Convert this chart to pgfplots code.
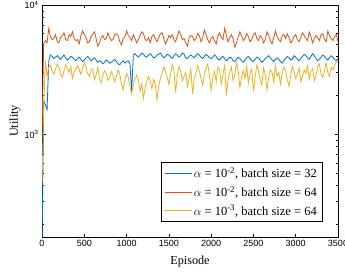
\documentclass[border=0pt]{standalone}
\usepackage{fontspec}
\setmainfont{Liberation Serif}
\newfontfamily\arialf{Liberation Sans}
\usepackage{pgfplots}
\usepackage{pgfplotstable}
\pgfplotsset{compat=1.18}
\definecolor{mblue}{rgb}{0,0.447,0.741}
\definecolor{morange}{rgb}{0.850,0.325,0.098}
\definecolor{myellow}{rgb}{0.929,0.694,0.125}

\pgfplotstableread{
ep b o y
0 120 1000 400
20 1800 5000 1600
40 1700 5300 3700
60 1550 5100 2800
80 3700 6600 3300
100 4100 5700 3400
120 4000 5400 3100
140 3850 5500 2900
160 3950 5900 3200
180 4050 5200 3500
200 3900 5100 3300
220 3800 5600 2900
240 3950 5800 2750
260 4100 6100 3100
280 3900 5400 3450
300 3750 5300 3250
320 3850 5900 3000
340 4000 5700 3350
360 3950 6200 2700
380 3800 5500 3050
400 3700 5300 3200
420 3850 5400 3400
440 3950 5000 3150
460 3800 5800 2900
480 3650 6300 3250
500 3750 5900 3600
520 3900 5600 3300
540 4000 5100 2950
560 3850 5200 2800
580 3700 5700 3100
600 3800 5900 3200
620 3900 6200 2650
640 3750 5500 2900
660 3600 4800 3300
680 3700 5100 2700
700 3650 5600 2500
720 3500 5800 2850
740 3600 5400 3100
760 3750 5500 2950
780 3650 6100 2600
800 3550 5600 2750
820 3600 5300 3050
840 3700 5400 2850
860 3800 5900 2550
880 3650 6000 2800
900 3500 5800 3150
920 3450 5200 2900
940 3600 4900 2450
960 3700 5500 2200
980 3550 5700 2650
1000 3650 6300 2950
1020 3700 5800 2750
1040 3500 5600 2350
1060 2150 5300 2050
1080 4100 5900 2400
1100 4200 5500 2700
1120 4050 5100 2850
1140 3950 5400 2600
1160 4100 5800 2150
1180 4250 6200 2450
1200 4150 6000 1900
1220 4000 5400 2300
1240 3950 5300 2600
1260 4100 5600 2800
1280 4200 5100 2550
1300 4050 5700 2250
1320 3900 5900 2650
1340 3950 5500 2400
1360 4100 5200 1850
1380 4150 5600 2350
1400 4250 6000 2700
1420 4050 6100 2950
1440 3900 5500 3300
1460 4000 5000 3050
1480 4150 5300 2750
1500 4100 5800 2450
1520 3950 5600 2900
1540 3850 5900 3450
1560 4050 5400 3150
1580 4200 5200 2100
1600 4100 5700 2850
1620 3950 6300 3350
1640 4050 5900 3100
1660 4250 5400 2600
1680 4150 5500 2800
1700 3900 5100 3000
1720 3850 4800 2350
1740 4000 5600 2700
1760 4100 5800 3200
1780 4000 5700 2050
1800 3900 5300 2650
1820 4050 5500 2950
1840 4200 6000 3400
1860 4100 5800 3100
1880 3950 5200 2700
1900 3850 5600 2400
1920 4000 6400 2900
1940 4150 5900 3250
1960 4050 5400 3500
1980 3900 5100 2850
2000 3850 5500 2200
2020 3950 5700 2750
2040 4100 5300 3050
2060 4000 5000 2550
2080 3800 5800 3300
2100 3750 6100 3150
2120 3900 5600 2450
2140 4000 5400 2900
2160 3850 6600 3400
2180 3700 5800 2000
2200 3800 5200 2650
2220 3950 5600 3000
2240 3900 5900 3300
2260 3700 5500 2600
2280 3650 4700 2850
2300 3800 5100 3550
2320 3950 5700 3100
2340 3850 6200 2300
2360 3700 5800 2800
2380 3600 5300 3100
2400 3750 5500 2700
2420 3900 6000 3350
2440 4000 5700 2500
2460 3850 5200 2950
2480 3700 5400 3200
2500 3650 5900 2150
2520 3800 6100 2750
2540 3950 5500 3450
2560 3900 5300 3050
2580 3750 5800 2650
2600 3600 5600 2400
2620 3700 5100 3250
2640 3850 5400 2900
2660 3950 6200 2200
2680 4050 5900 2750
2700 3900 5300 3150
2720 3750 5000 3000
2740 3650 5600 2550
2760 3800 6300 3400
2780 3900 5700 2800
2800 3800 5400 3000
2820 3650 5200 2450
2840 3550 5800 2950
2860 3700 5900 3300
2880 3850 5500 3100
2900 4000 6000 2650
2920 3900 5600 2350
2940 3750 5100 2850
2960 3800 5300 3350
2980 4050 5700 3050
3000 3950 5900 2700
3020 3800 5400 2900
3040 3700 5200 3250
3060 3850 5600 2550
3080 4000 6100 2800
3100 4150 5800 3150
3120 4050 5500 2950
3140 3900 5300 3400
3160 3800 6200 2650
3180 4000 5700 3050
3200 4200 5100 3200
3220 4050 5500 2600
3240 3850 5800 2850
3260 3700 5600 3300
3280 3800 5300 3500
3300 3950 5900 2900
3320 4100 6000 2750
3340 4000 5400 3100
3360 3850 5200 3550
3380 3750 6300 3000
3400 3900 5800 2800
3420 4050 5500 3300
3440 3950 5300 3150
3460 3800 5700 3450
3480 3700 5900 3600
3500 3850 5200 3650
}\data

\begin{document}
\begin{tikzpicture}
\useasboundingbox (-42pt,-39pt) rectangle (303pt,237pt);
\begin{axis}[
  scale only axis, width=296pt, height=232pt,
  xmin=0, xmax=3500,
  ymode=log, log basis y=10, ymin=160, ymax=10000,
  xtick={0,500,...,3500},
  ytick={1000,10000},
  yticklabels={10\textsuperscript{3},10\textsuperscript{4}},
  minor ytick={200,300,400,500,600,700,800,900,2000,3000,4000,5000,6000,7000,8000,9000},
  tick align=inside, xtick pos=both, ytick pos=both,
  major tick length=3.5pt, minor tick length=2pt,
  every tick/.style={black, line width=0.5pt},
  axis line style={line width=0.6pt},
  tick label style={font=\arialf\fontsize{9}{10}\selectfont},
  /pgf/number format/assume math mode=true,
  /pgf/number format/1000 sep={},
  xlabel={Episode}, ylabel={Utility},
  label style={font=\fontsize{12.2}{14}\selectfont},
  ylabel style={at={(axis description cs:-0.091,0.5)}, anchor=center},
  xlabel style={at={(axis description cs:0.5,-0.108)}, anchor=center},
  legend style={at={(0.946,0.065)}, anchor=south east,
    font=\fontsize{12.5}{15}\selectfont, draw=black, line width=0.5pt,
    inner sep=3pt, row sep=3pt, nodes={inner sep=2pt}},
  legend cell align=left,
  legend image code/.code={\draw[#1] (0pt,0pt) -- (27pt,0pt);},
]
\addplot[mblue, line width=0.8pt] table[x=ep, y=b] {\data};
\addlegendentry{$\alpha$ = 10\textsuperscript{-2}, batch size = 32}
\addplot[morange, line width=0.8pt] table[x=ep, y=o] {\data};
\addlegendentry{$\alpha$ = 10\textsuperscript{-2}, batch size = 64}
\addplot[myellow, line width=0.8pt] table[x=ep, y=y] {\data};
\addlegendentry{$\alpha$ = 10\textsuperscript{-3}, batch size = 64}
\end{axis}
\end{tikzpicture}
\end{document}
